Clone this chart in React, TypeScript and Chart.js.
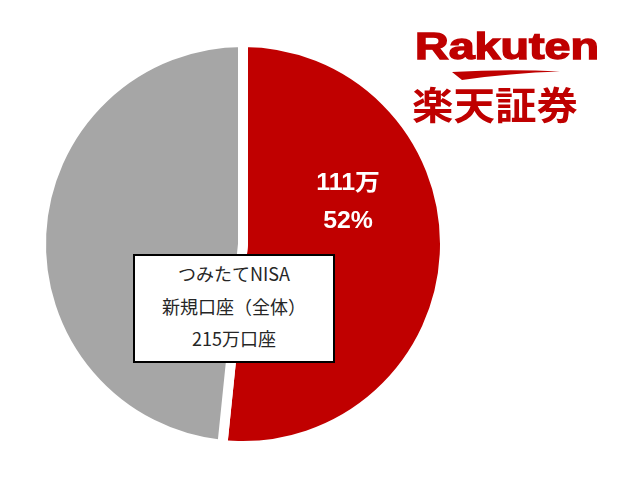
import React, { useEffect, useRef } from "react";
import { Chart, registerables } from "chart.js";

Chart.register(...registerables);

// New つみたてNISA accounts (万口座), split by share
const categories = ["楽天証券", "その他"];
const accounts = [111, 104];
const sliceLabels = [["111万", "52%"], []];
const sliceColors = ["#C00000", "#A6A6A6"];

const boxLines = ["つみたてNISA", "新規口座（全体）", "215万口座"];

const W = 626;
const H = 497;
const BRAND = "#BF0000";

const sliceLabelPlugin = {
  id: "sliceLabels",
  afterDatasetsDraw(chart: any) {
    const meta = chart.getDatasetMeta(0);
    const ctx = chart.ctx;
    meta.data.forEach((arc: any, i: number) => {
      const lines = sliceLabels[i];
      if (!lines || !lines.length) return;
      const ang = (-21.7 * Math.PI) / 180;
      const r = arc.outerRadius * 0.56;
      const cx = arc.x + Math.cos(ang) * r;
      const cy = arc.y + Math.sin(ang) * r;
      ctx.save();
      ctx.fillStyle = "#FFFFFF";
      ctx.font = "bold 23px 'Liberation Sans', Arial, 'Noto Sans CJK JP', sans-serif";
      ctx.textAlign = "center";
      ctx.textBaseline = "middle";
      const gap = 38;
      lines.forEach((t: string, k: number) => {
        ctx.save();
        ctx.translate(cx, cy + (k - (lines.length - 1) / 2) * gap);
        ctx.scale(1.08, 1);
        ctx.fillText(t, 0, 0);
        ctx.restore();
      });
      ctx.restore();
    });
  },
};

function PieChart() {
  const ref = useRef<HTMLCanvasElement | null>(null);
  useEffect(() => {
    if (!ref.current) return;
    const chart = new Chart(ref.current, {
      type: "pie",
      data: {
        labels: categories,
        datasets: [
          {
            data: accounts,
            backgroundColor: sliceColors,
            borderColor: "#FFFFFF",
            borderWidth: 10,
          },
        ],
      },
      options: {
        animation: false,
        responsive: true,
        maintainAspectRatio: false,
        layout: { padding: { left: 36, top: 37, right: 176, bottom: 46 } },
        plugins: {
          legend: { display: false },
          tooltip: { enabled: false },
        },
      },
      plugins: [sliceLabelPlugin],
    });
    return () => chart.destroy();
  }, []);
  return <canvas ref={ref} />;
}

export default function App() {
  return (
    <div
      style={{
        position: "fixed",
        left: 0,
        top: 0,
        width: W,
        height: H,
        background: "#FFFFFF",
        overflow: "hidden",
      }}
    >
      <div style={{ position: "absolute", left: 0, top: 0, width: W, height: H }}>
        <PieChart />
      </div>

      {/* summary box */}
      <div
        style={{
          position: "absolute",
          left: 133,
          top: 254,
          width: 202,
          height: 109,
          boxSizing: "border-box",
          border: "2px solid #000000",
          background: "#FFFFFF",
          fontFamily: "'Noto Sans CJK JP', sans-serif",
          fontSize: 18,
          color: "#262626",
          textAlign: "center",
        }}
      >
        {boxLines.map((t, i) => (
          <div
            key={i}
            style={{
              position: "absolute",
              left: 0,
              right: 0,
              top: 5 + i * 32.5,
              lineHeight: "24px",
              whiteSpace: "nowrap",
            }}
          >
            {t}
          </div>
        ))}
      </div>

      {/* brand mark */}
      <svg
        style={{ position: "absolute", left: 0, top: 0 }}
        width={W}
        height={H}
        viewBox={`0 0 ${W} ${H}`}
      >
        <text
          x={415}
          y={59}
          fontFamily="'Liberation Sans', Arial, sans-serif"
          fontWeight={700}
          fontSize={37}
          fill={BRAND}
          stroke={BRAND}
          strokeWidth={1.4}
          textLength={184}
          lengthAdjust="spacingAndGlyphs"
        >
          Rakuten
        </text>
        <path d="M452 72 Q506 69 560 71.5 Q510 73 462 80 Z" fill={BRAND} />
        <text
          x={412}
          y={119}
          fontFamily="'Noto Sans CJK JP', sans-serif"
          fontWeight={700}
          fontSize={38}
          fill={BRAND}
          textLength={166}
          lengthAdjust="spacingAndGlyphs"
        >
          楽天証券
        </text>
      </svg>
    </div>
  );
}
